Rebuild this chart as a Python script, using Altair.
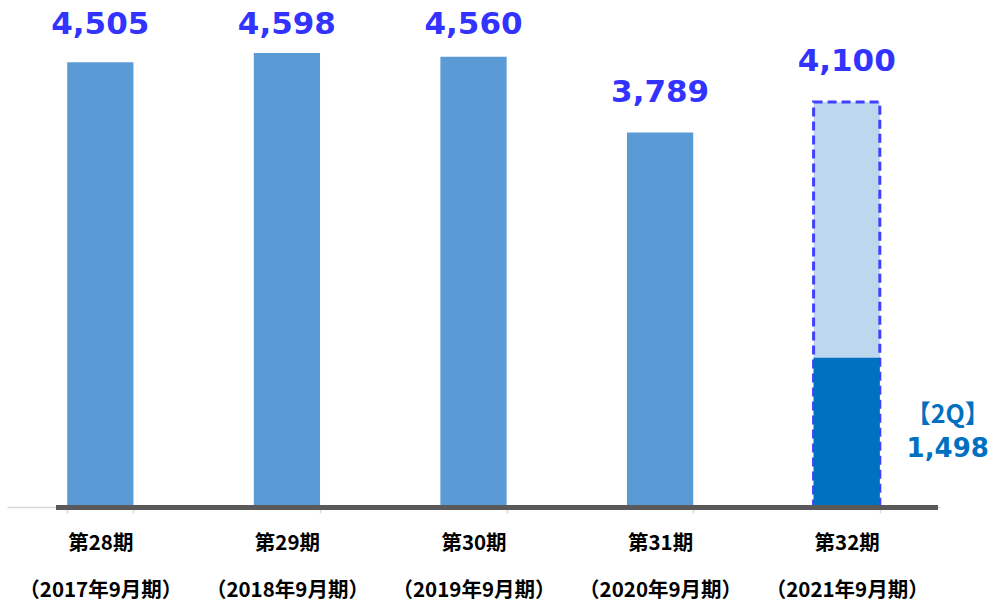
import altair as alt
import pandas as pd

periods = ["第28期", "第29期", "第30期", "第31期", "第32期"]
years = ["（2017年9月期）", "（2018年9月期）", "（2019年9月期）", "（2020年9月期）", "（2021年9月期）"]
values = [4505, 4598, 4560, 3789, 4100]
forecast = [False, False, False, False, True]
actual_2q = 1498
label_2q = "【2Q】"

cats = [p + "|" + y for p, y in zip(periods, years)]
df = pd.DataFrame({"cat": cats, "value": values, "forecast": forecast})
df_2q = pd.DataFrame({"cat": [cats[-1]], "value": [actual_2q], "label": [label_2q]})

xscale = alt.Scale(domain=cats, paddingInner=0.645, paddingOuter=0.3225)
yscale = alt.Scale(domain=[0, 5137])

xenc = alt.X(
    "cat:N", sort=cats, scale=xscale, title=None,
    axis=alt.Axis(
        labelExpr="split(datum.label, '|')", labelAngle=0,
        labelFont="Noto Sans CJK JP", labelFontWeight="bold", labelFontSize=20.5,
        labelColor="#000000", labelLineHeight=47, labelPadding=20,
        domainColor="#D9D9D9", domainWidth=1.5, tickColor="#D9D9D9",
        tickWidth=1.5, tickSize=6, tickBand="extent", offset=2, grid=False,
    ),
)
yenc = alt.Y("value:Q", scale=yscale, axis=None)

base = alt.Chart(df).encode(x=xenc, y=yenc)

bars = base.transform_filter("!datum.forecast").mark_bar(color="#5B9BD5")
fc_bar = base.transform_filter("datum.forecast").mark_bar(
    fill="#BDD7EE", stroke="#4040FF", strokeDash=[9, 5], strokeWidth=3
)
act_bar = alt.Chart(df_2q).mark_bar(color="#0070C0").encode(x=xenc, y=yenc)

val_text = alt.Chart(df).transform_calculate(
    label_pos="min(datum.value, 4480)"
).mark_text(
    dy=-31, baseline="alphabetic", fontSize=31, fontWeight="bold",
    font="DejaVu Sans", color="#3333FF"
).encode(
    x=xenc,
    y=alt.Y("label_pos:Q", scale=yscale, axis=None),
    text=alt.Text("value:Q", format=","),
)

q_label = alt.Chart(df_2q).mark_text(
    xOffset=101, dy=-82, baseline="alphabetic", fontSize=25, fontWeight="bold",
    font="Noto Sans CJK JP", color="#0070C0"
).encode(x=xenc, y=alt.datum(0, scale=yscale), text="label:N")

q_val = alt.Chart(df_2q).mark_text(
    xOffset=101, dy=-48, baseline="alphabetic", fontSize=26, fontWeight="bold",
    font="DejaVu Sans", color="#0070C0"
).encode(x=xenc, y=alt.datum(0, scale=yscale), text=alt.Text("value:Q", format=","))

base_rule = alt.Chart(df_2q).mark_rule(color="#595959", strokeWidth=5).encode(
    x=alt.value(49), x2=alt.value(931), y=alt.value(507.5)
)

chart = alt.layer(
    bars, fc_bar, act_bar, base_rule, val_text, q_label, q_val
).properties(
    width=933, height=505,
    autosize=alt.AutoSizeParams(type="none"),
    padding={"left": 7, "top": 0, "right": 56, "bottom": 100},
    background="#FFFFFF",
).configure_view(stroke=None)

chart.save("out.html", embed_options={"renderer": "svg", "actions": False})
